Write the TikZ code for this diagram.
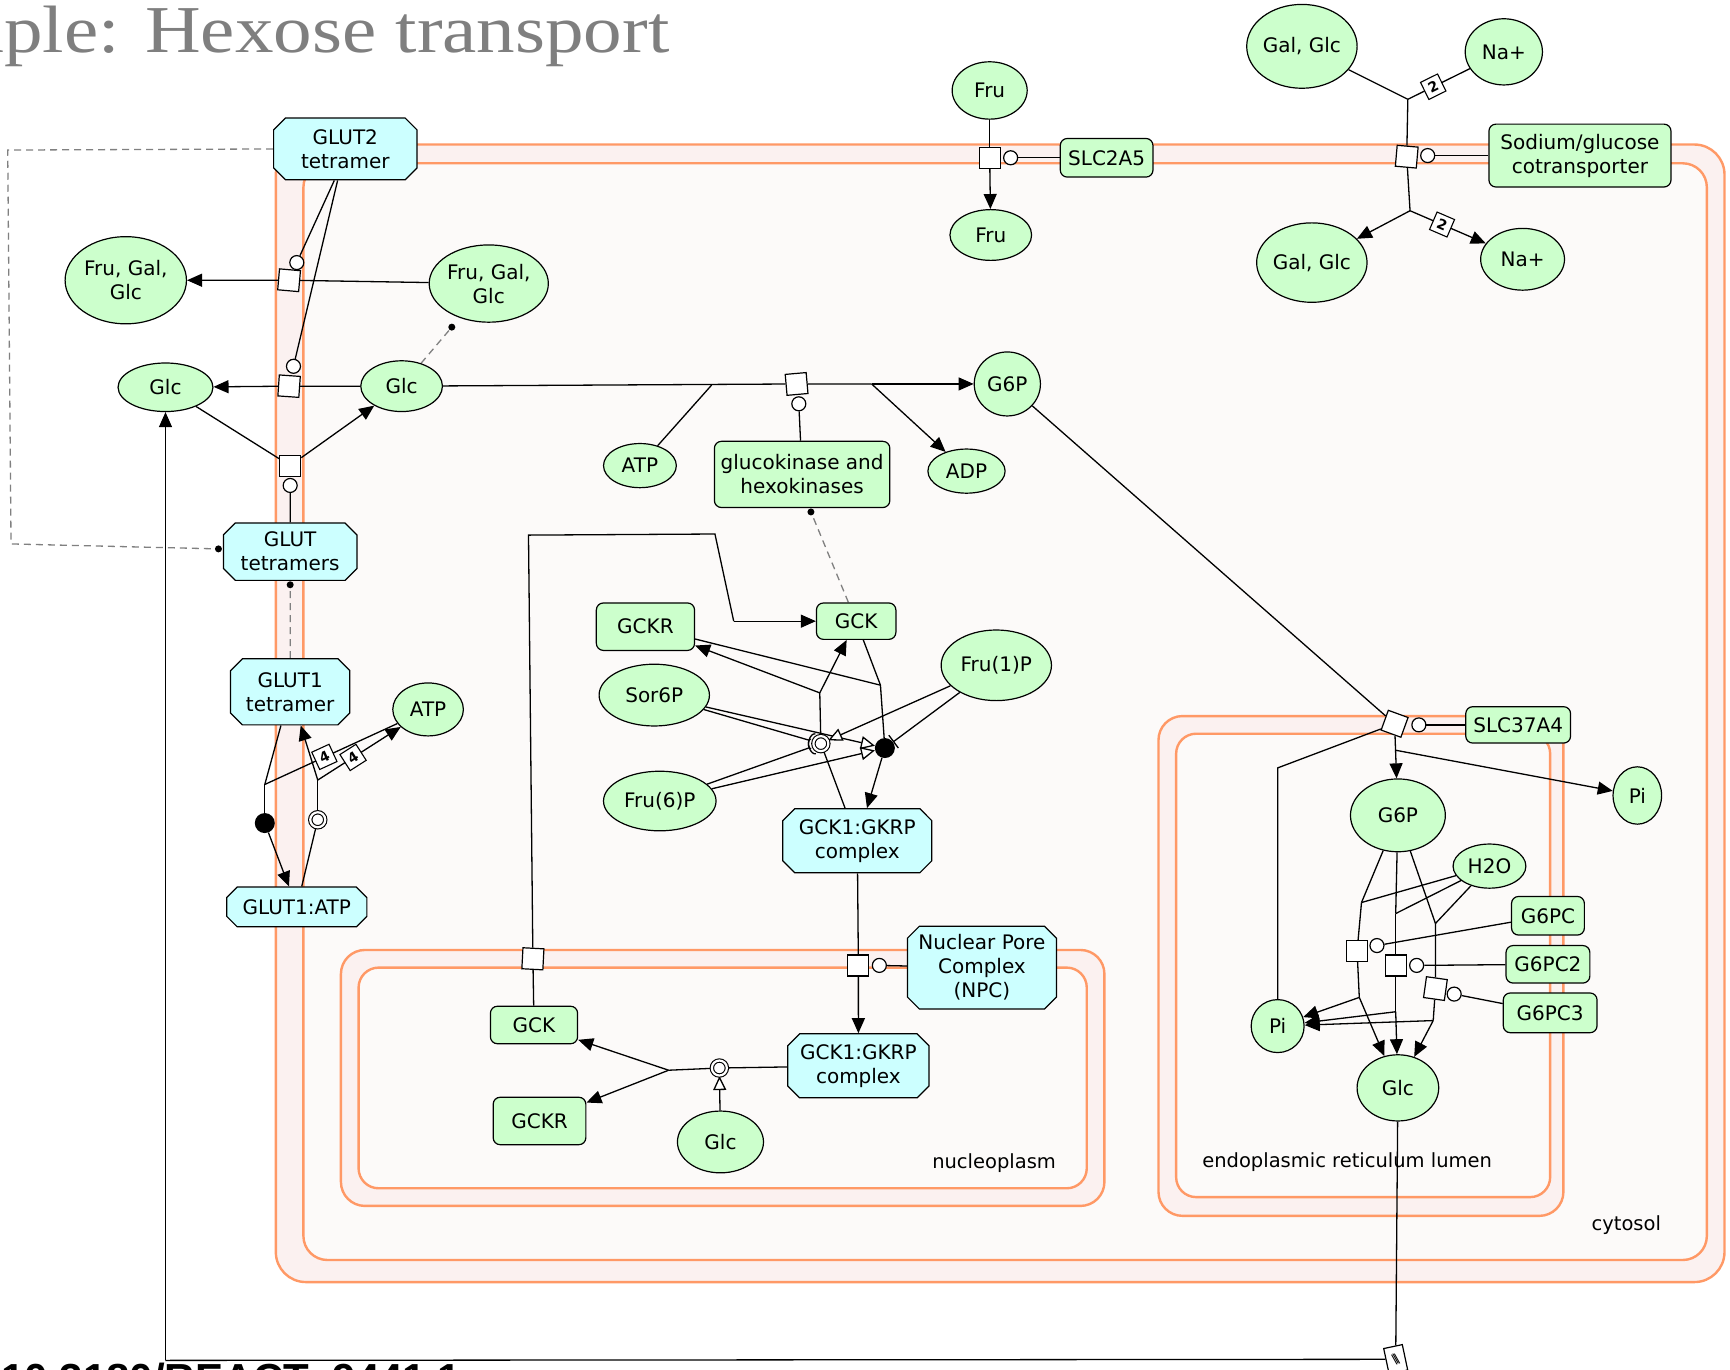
\documentclass[tikz,border=0pt]{standalone}
\usepackage{fontspec}
\usetikzlibrary{shapes.geometric,shapes.misc,arrows.meta,calc}
\newfontfamily\nodefont{DejaVu Sans}
\newfontfamily\ttlfont[FakeStretch=1.15]{Liberation Serif}
\newfontfamily\doifont{Liberation Sans}
\definecolor{smgreen}{RGB}{204,255,204}
\definecolor{cxcyan}{RGB}{204,255,255}
\definecolor{memorange}{RGB}{255,153,102}
\definecolor{memfill}{RGB}{251,241,240}
\definecolor{infill}{RGB}{252,250,249}
\definecolor{titlegray}{RGB}{127,127,127}
\pgfdeclarelayer{bg}
\pgfdeclarelayer{edges}
\pgfsetlayers{bg,edges,main}
\begin{document}
\begin{tikzpicture}[x=1.10332pt,y=-1.10332pt,
  nd/.style={draw=black, line width=1.2pt, inner sep=0pt, align=center, text=black, font=\nodefont\fontsize{20}{24}\selectfont},
  sm/.style={nd, ellipse, fill=smgreen},
  prot/.style={nd, rectangle, rounded corners=7pt, fill=smgreen},
  cplx/.style={nd, chamfered rectangle, chamfered rectangle xsep=9pt, fill=cxcyan},
  sz/.style 2 args={minimum width=#1*1.10332pt, minimum height=#2*1.10332pt},
  proc/.style={draw=black, fill=white, line width=1.2pt, rectangle, inner sep=0pt, minimum size=21pt},
  cat/.style={draw=black, fill=white, line width=1.2pt, circle, inner sep=0pt, minimum size=14pt},
  assoc/.style={circle, fill=black, inner sep=0pt, minimum size=20pt},
  dissoc/.style={circle, draw=black, fill=white, line width=1.1pt, double=white, double distance=2.2pt, inner sep=0pt, minimum size=15pt},
  stoich/.style={draw=black, fill=white, line width=1.1pt, rectangle, inner sep=0pt, minimum size=19pt, font=\nodefont\bfseries\fontsize{14}{14}\selectfont},
  ldot/.style={circle, fill=black, inner sep=0pt, minimum size=7pt},
  omitbox/.style={draw=black, fill=white, line width=1.2pt, rectangle, inner sep=0pt, minimum width=19pt, minimum height=26pt, font=\nodefont\fontsize{13}{13}\selectfont},
  link/.style={draw=black, line width=1.3pt},
  prod/.style={link, -{Triangle[length=15pt,width=13pt]}},
  posreg/.style={link, -{Triangle[open,length=14pt,width=13pt,fill=white]}},
  negreg/.style={link, -{Bar[width=16pt]}},
  arcreg/.style={link, -{Arc Barb[reversed,length=5pt,width=17pt]}},
  dlink/.style={draw=gray, line width=1.3pt, dash pattern=on 7pt off 5pt},
  memb/.style={draw=memorange, line width=2.4pt},
  comptlbl/.style={font=\nodefont\fontsize{19.5}{24}\selectfont, inner sep=0pt, text=black}
]
\useasboundingbox (0,0) rectangle (1568,1241);
\clip (0,0) rectangle (1568,1241);

\begin{pgfonlayer}{bg}
\fill[white] (0,0) rectangle (1568,1241);
% cell
\draw[memb, fill=memfill, rounded corners=30pt] (250,131) rectangle (1563,1162);
\draw[memb, fill=infill, rounded corners=24pt] (275,148) rectangle (1547,1142);
% nucleus
\draw[memb, fill=memfill, rounded corners=24pt] (309,861) rectangle (1001,1093);
\draw[memb, fill=infill, rounded corners=20pt] (325,877) rectangle (985,1077);
% ER
\draw[memb, fill=memfill, rounded corners=24pt] (1050,649) rectangle (1417,1102);
\draw[memb, fill=infill, rounded corners=20pt] (1066,665) rectangle (1405,1085);
\end{pgfonlayer}

% labels
\node[comptlbl] (lblnuc) at (901,1054) {nucleoplasm};
\node[comptlbl] (lbler) at (1221,1053) {endoplasmic reticulum lumen};
\node[comptlbl] (lblcyt) at (1474,1110) {cytosol};
\node[anchor=base east, inner sep=0pt, text=titlegray, font=\ttlfont\fontsize{67}{67}\selectfont] (title) at (607,47.5) {Example: Hexose transport};
\node[anchor=north west, inner sep=0pt, font=\doifont\bfseries\fontsize{42}{42}\selectfont] (doi) at (1,1235) {10.3180/REACT\_9441.1};

% entities
\node[cplx, sz={130}{56}] (glut2) at (313,135) {GLUT2\\tetramer};
\node[sm, sz={110}{79}] (fggout) at (114,254) {Fru, Gal,\\Glc};
\node[sm, sz={108}{70}] (fggin) at (443,257) {Fru, Gal,\\Glc};
\node[sm, sz={86}{44}] (glcout) at (150,351) {Glc};
\node[sm, sz={74}{46}] (glcin) at (364,350) {Glc};
\node[cplx, sz={121}{52}] (gluts) at (263,500) {GLUT\\tetramers};
\node[cplx, sz={108}{60}] (glut1) at (263,627) {GLUT1\\tetramer};
\node[sm, sz={64}{48}] (atpa) at (388,643) {ATP};
\node[cplx, sz={127}{36}] (glut1atp) at (269,822) {GLUT1:ATP};
\node[sm, sz={68}{52}] (frua) at (897,82) {Fru};
\node[sm, sz={74}{46}] (frub) at (898,213) {Fru};
\node[prot, sz={84}{35}] (slc2a5) at (1003,143) {SLC2A5};
\node[sm, sz={94}{76}] (galglca) at (1180,42) {Gal, Glc};
\node[sm, sz={70}{60}] (naa) at (1363,47) {Na+};
\node[prot, sz={165}{57}] (sglt) at (1432,141) {Sodium/glucose\\cotransporter};
\node[sm, sz={92}{72}] (galglcb) at (1189,238) {Gal, Glc};
\node[sm, sz={76}{56}] (nab) at (1380,235) {Na+};
\node[sm, sz={60}{58}] (gsixpa) at (913,348) {G6P};
\node[sm, sz={66}{40}] (atpb) at (580,422) {ATP};
\node[prot, sz={159}{60}] (gk) at (727,430) {glucokinase and\\hexokinases};
\node[sm, sz={70}{40}] (adp) at (876,427) {ADP};
\node[prot, sz={72}{33}] (gcka) at (776,563) {GCK};
\node[prot, sz={89}{43}] (gckra) at (585,568) {GCKR};
\node[sm, sz={100}{56}] (sorsixp) at (593,630) {Sor6P};
\node[sm, sz={100}{64}] (fruonep) at (903,603) {Fru(1)P};
\node[sm, sz={102}{54}] (frusixp) at (598,726) {Fru(6)P};
\node[cplx, sz={135}{58}] (cplxa) at (777,762) {GCK1:GKRP\\complex};
\node[cplx, sz={135}{75}] (npc) at (890,877) {Nuclear Pore\\Complex\\(NPC)};
\node[prot, sz={79}{34}] (gckb) at (484,929) {GCK};
\node[prot, sz={84}{43}] (gckrb) at (489,1016) {GCKR};
\node[cplx, sz={128}{58}] (cplxb) at (778,966) {GCK1:GKRP\\complex};
\node[sm, sz={78}{56}] (glcnuc) at (653,1035) {Glc};
\node[prot, sz={95}{33}] (slcb) at (1376,657) {SLC37A4};
\node[sm, sz={44}{52}] (pia) at (1484,721) {Pi};
\node[sm, sz={86}{66}] (gsixpb) at (1267,739) {G6P};
\node[sm, sz={66}{40}] (water) at (1350,785) {H2O};
\node[prot, sz={66}{35}] (gpc) at (1403,830) {G6PC};
\node[prot, sz={76}{34}] (gpctwo) at (1403,874) {G6PC2};
\node[prot, sz={85}{36}] (gpcthree) at (1405,918) {G6PC3};
\node[sm, sz={48}{48}] (pib) at (1158,930) {Pi};
\node[sm, sz={74}{60}] (glcer) at (1267,986) {Glc};

% process nodes and modifiers
\node[proc, rotate=-5] (pa) at (262,254) {};
\node[cat] (ca) at (269,238) {};
\node[proc, rotate=-4] (pb) at (262,350) {};
\node[cat] (cb) at (266,332) {};
\node[proc] (pc) at (263,422) {};
\node[cat] (cc) at (263,440) {};
\node[proc] (pfru) at (897,143) {};
\node[cat] (cfru) at (916,143) {};
\node[proc, rotate=-5] (psglt) at (1275,142) {};
\node[cat] (csglt) at (1294,141) {};
\node[proc, rotate=5] (pgk) at (722,348) {};
\node[cat] (cgk) at (724,366) {};
\node[proc, rotate=-20] (pslc) at (1264,656) {};
\node[cat] (cslc) at (1286,657) {};
\node[proc] (pgone) at (1230,862) {};
\node[cat] (cgone) at (1248,857) {};
\node[proc] (pgtwo) at (1265,875) {};
\node[cat] (cgtwo) at (1284,875) {};
\node[proc, rotate=-8] (pgthree) at (1301,896) {};
\node[cat] (cgthree) at (1318,901) {};
\node[proc, rotate=-3] (pexp) at (483,869) {};
\node[proc] (pimp) at (778,875) {};
\node[cat] (cimp) at (797,875) {};
\node[assoc] (asa) at (240,746) {};
\node[dissoc] (dsa) at (288,743) {};
\node[assoc] (asb) at (802,678) {};
\node[dissoc] (dsb) at (744,674) {};
\node[dissoc] (dsc) at (652,968) {};
\node[stoich, rotate=24.7] (sfa) at (294,686) {4};
\node[stoich, rotate=32.6] (sfb) at (320,686.5) {4};
\node[stoich, rotate=26.3] (sta) at (1299,78.6) {2};
\node[stoich, rotate=-23.3] (stb) at (1307,203.5) {2};
\node[ldot] (dota) at (409.5,296.5) {};
\node[ldot] (dotb) at (263,530) {};
\node[ldot] (dotc) at (198,497.5) {};
\node[ldot] (dotd) at (735,464) {};
\node[omitbox, rotate=12] (omitn) at (1265,1232) {\textbackslash\kern-3pt\textbackslash\kern-3pt\textbackslash};

% junction points
\coordinate (kA) at (7,136);
\coordinate (kB) at (10,493);
\coordinate (jAa) at (240,711);
\coordinate (jAd) at (288,707);
\coordinate (jsi) at (1276,90);
\coordinate (jso) at (1278,191);
\coordinate (jgk) at (645,349);
\coordinate (jgo) at (790,348);
\coordinate (jga) at (798,621);
\coordinate (jgd) at (743,628);
\coordinate (kC) at (479,485);
\coordinate (kD) at (648,484);
\coordinate (kE) at (665,563);
\coordinate (jn) at (606,970);
\coordinate (jslc) at (1265,680);
\coordinate (jpi) at (1158,696);
\coordinate (jra) at (1234,818);
\coordinate (jrb) at (1232,904);
\coordinate (jrc) at (1265,828);
\coordinate (jrd) at (1265,917);
\coordinate (jre) at (1301,837);
\coordinate (jrf) at (1299,925);
\coordinate (kF) at (150,1233);

\begin{pgfonlayer}{edges}
% GLUT2 transport
\draw[link] (fggin) -- (pa);
\draw[prod] (pa) -- (fggout);
\draw[link] ($(glut2.south)+(-10,0)$) -- (ca);
\draw[link] (glcin) -- (pb);
\draw[prod] (pb) -- (glcout);
\draw[link] ($(glut2.south)+(-7,0)$) -- (cb);
\draw[link] (glcout) -- (pc);
\draw[prod] (pc) -- (glcin);
\draw[link] (cc) -- (gluts);
\draw[dlink] (glcin) -- (dota);
\draw[dlink] (glut1) -- (dotb);
\draw[dlink] (glut2.west) -- (kA) -- (kB) -- (dotc);
% GLUT1 / ATP
\draw[link] (glut1) -- (jAa);
\draw[link] (atpa) -- (jAa);
\draw[link] (jAa) -- (asa);
\draw[prod] (asa) -- (glut1atp);
\draw[link] (glut1atp) -- (dsa);
\draw[link] (dsa) -- (jAd);
\draw[prod] (jAd) -- (glut1);
\draw[prod] (jAd) -- (atpa);
% Fru via SLC2A5
\draw[link] (frua) -- (pfru);
\draw[prod] (pfru) -- (frub);
\draw[link] (slc2a5) -- (cfru);
% SGLT
\draw[link] (galglca) -- (jsi);
\draw[link] (naa) -- (jsi);
\draw[link] (jsi) -- (psglt);
\draw[link] (psglt) -- (jso);
\draw[prod] (jso) -- (galglcb);
\draw[prod] (jso) -- (nab);
\draw[link] (sglt) -- (csglt);
% glucokinase
\draw[link] (glcin) -- (pgk);
\draw[link] (atpb) -- (jgk);
\draw[link] (pgk) -- (jgo);
\draw[prod] (jgo) -- (gsixpa);
\draw[prod] (jgo) -- (adp);
\draw[link] (gk) -- (cgk);
\draw[dlink] (gcka) -- (dotd);
% GCK / GCKR in cytosol
\draw[link] (gcka) -- (jga);
\draw[link] (gckra) -- (jga);
\draw[link] (jga) -- (asb);
\draw[prod] (asb) -- (cplxa);
\draw[link] (cplxa) -- (dsb);
\draw[link] (dsb) -- (jgd);
\draw[prod] (jgd) -- (gcka);
\draw[prod] (jgd) -- (gckra);
\draw[posreg] (sorsixp) -- (asb);
\draw[arcreg] (sorsixp) -- (dsb);
\draw[posreg] (frusixp) -- (asb);
\draw[arcreg] (frusixp) -- (dsb);
\draw[posreg] (fruonep) -- (dsb);
\draw[negreg] (fruonep) -- (asb);
% nuclear transport
\draw[link] (gckb) -- (pexp);
\draw[link] (pexp) -- (kC) -- (kD) -- (kE);
\draw[prod] (kE) -- (gcka);
\draw[link] (cplxa) -- (pimp);
\draw[prod] (pimp) -- (cplxb);
\draw[link] (npc) -- (cimp);
\draw[link] (cplxb) -- (dsc);
\draw[link] (dsc) -- (jn);
\draw[prod] (jn) -- (gckb);
\draw[prod] (jn) -- (gckrb);
\draw[posreg] (glcnuc) -- (dsc);
% SLC37A4
\draw[link] (gsixpa) -- (pslc);
\draw[prod] (pslc) -- (gsixpb);
\draw[prod] (jslc) -- (pia);
\draw[link] (pib) -- (jpi) -- (pslc);
\draw[link] (slcb) -- (cslc);
% G6PC reactions
\draw[link] (gsixpb) -- (jra);
\draw[link] (water) -- (jra);
\draw[link] (jra) -- (pgone);
\draw[link] (pgone) -- (jrb);
\draw[prod] (jrb) -- (glcer);
\draw[prod] (jrb) -- (pib);
\draw[link] (gsixpb) -- (jrc);
\draw[link] (water) -- (jrc);
\draw[link] (jrc) -- (pgtwo);
\draw[link] (pgtwo) -- (jrd);
\draw[prod] (jrd) -- (glcer);
\draw[prod] (jrd) -- (pib);
\draw[link] (gsixpb) -- (jre);
\draw[link] (water) -- (jre);
\draw[link] (jre) -- (pgthree);
\draw[link] (pgthree) -- (jrf);
\draw[prod] (jrf) -- (glcer);
\draw[prod] (jrf) -- (pib);
\draw[link] (gpc) -- (cgone);
\draw[link] (gpctwo) -- (cgtwo);
\draw[link] (gpcthree) -- (cgthree);
% ER glucose back to extracellular
\draw[link] (glcer) -- (omitn);
\draw[link] (omitn) -- (kF);
\draw[prod] (kF) -- (glcout);
\end{pgfonlayer}
\end{tikzpicture}
\end{document}
